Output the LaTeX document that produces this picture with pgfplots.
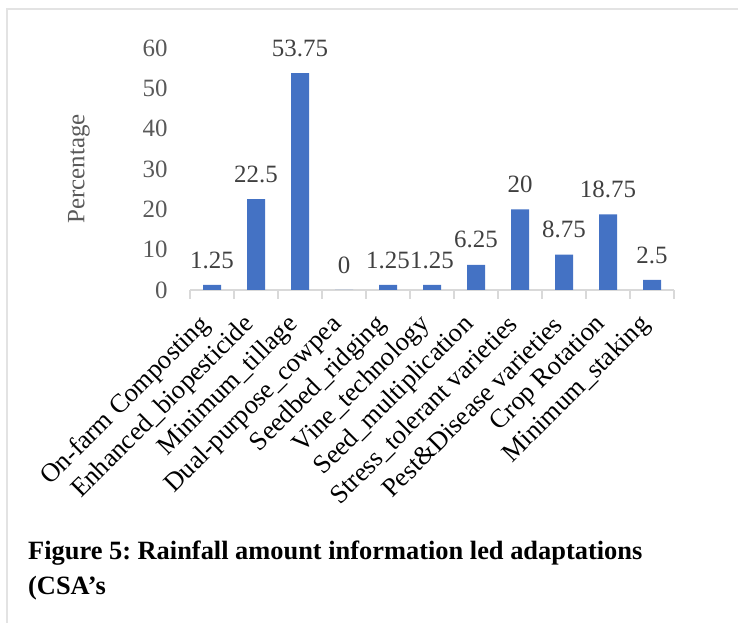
\documentclass[border=0pt]{standalone}
\usepackage{pgfplots}
\pgfplotsset{compat=1.18}
\usepackage{fontspec}
\setmainfont{Liberation Serif}
\frenchspacing
\definecolor{barblue}{HTML}{4472C4}
\definecolor{ticktxt}{HTML}{595959}
\definecolor{valtxt}{HTML}{404040}
\definecolor{axisgray}{HTML}{D9D9D9}
\definecolor{framegray}{HTML}{E3E3E3}
\newcommand{\chartfont}{\fontsize{25}{29}\selectfont}
\newcommand{\catfont}{\fontsize{26.5}{30}\selectfont}

\begin{document}
\begin{tikzpicture}[x=1bp,y=1bp]
\useasboundingbox (0,0) rectangle (738,623);
% page frame
\draw[framegray, line width=1.2bp] (7,0) -- (7,614) -- (738,614);
\begin{axis}[
  at={(190bp,333bp)}, anchor=south west,
  scale only axis, width=484bp, height=242bp,
  ymin=0, ymax=60, xmin=-0.5, xmax=10.5,
  ybar, bar width=18bp,
  axis x line*=bottom, axis y line*=left,
  y axis line style={draw=none},
  x axis line style={axisgray, line width=1.2bp},
  /pgf/number format/assume math mode=true,
  ytick={0,10,...,60},
  xtick={0,...,10},
  xticklabels={On-farm Composting, Enhanced\_biopesticide, Minimum\_tillage,
    Dual-purpose\_cowpea, Seedbed\_ridging, Vine\_technology,
    Seed\_multiplication, Stress\_tolerant varieties, Pest\&Disease varieties,
    Crop Rotation, Minimum\_staking},
  major tick length=0pt,
  minor xtick={-0.5,0.5,...,10.5},
  minor tick length=9bp,
  minor tick style={axisgray, line width=1.2bp},
  tick align=outside,
  yticklabel style={font=\chartfont, text=ticktxt, anchor=east, xshift=-19bp},
  xticklabel style={font=\catfont, text=black, xshift=-6bp, yshift=-31bp, rotate=45, anchor=east, inner sep=0pt},
  ylabel={Percentage},
  ylabel style={font=\chartfont, text=ticktxt, at={(axis description cs:-0.20,0.5)}, anchor=south, rotate=0},
  nodes near coords,
  nodes near coords style={font=\chartfont, text=valtxt, yshift=13bp},
  clip=false,
]
\addplot[fill=barblue, draw=none] coordinates {
  (0,1.25) (1,22.5) (2,53.75) (3,0) (4,1.25) (5,1.25)
  (6,6.25) (7,20) (8,8.75) (9,18.75) (10,2.5)
};
\end{axis}
\node[anchor=base west, font=\fontsize{26.5}{31}\selectfont\bfseries, inner sep=0pt]
  at (28,63) {Figure 5: Rainfall amount information led adaptations};
\node[anchor=base west, font=\fontsize{26.5}{31}\selectfont\bfseries, inner sep=0pt]
  at (28,28) {(CSA’s};
\end{tikzpicture}
\end{document}
